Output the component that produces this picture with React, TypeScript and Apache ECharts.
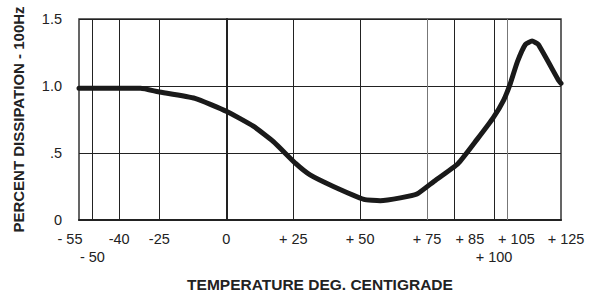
import React, { useEffect, useRef } from "react";
import * as echarts from "echarts";

const temps = [-55, -32, -25.4, -11.7, 0.2, 10.1, 17.6, 26.0, 31.3, 40.0, 51.4, 57.5, 65.0, 71.2, 77.4, 86.5, 93.6, 99.6, 103.6, 106.1, 108.7, 111.7, 114.2, 116.5, 124, 125];
const dissipation = [0.983, 0.983, 0.957, 0.908, 0.81, 0.7, 0.585, 0.42, 0.336, 0.25, 0.154, 0.144, 0.165, 0.194, 0.286, 0.42, 0.6, 0.76, 0.895, 1.02, 1.18, 1.31, 1.335, 1.31, 1.045, 1.02];

const tickValues = [-55, -40, -25, 0, 25, 50, 75, 85, 105, 125];
const tickLabels = ["- 55", "-40", "-25", "0", "+ 25", "+ 50", "+ 75", "+ 85", "+ 105", "+ 125"];
const secondRowValues = [-50, 100];
const secondRowLabels = ["- 50", "+ 100"];
const gridValues = [-50, -40, -25, 0, 25, 50, 75, 85, 100, 105];
const lightGrid = [75, 105];

const labelStyleKey: Record<number, string> = { [-55]: "l", 85: "r2", 105: "r1", 125: "r0" };

export default function App() {
  const ref = useRef<HTMLDivElement>(null);
  useEffect(() => {
    const chart = echarts.init(ref.current!, undefined, { renderer: "svg" });
    const font = "'Liberation Sans', Arial, Helvetica, sans-serif";
    const fs = 14.5;
    const baseLabel = { fontFamily: font, fontSize: fs, color: "#222" };
    chart.setOption({
      animation: false,
      grid: {
        left: 79,
        right: 34,
        top: 19,
        bottom: 72,
        outerBoundsMode: "none",
        containLabel: false,
        show: true,
        borderColor: "#333",
        borderWidth: 1.5,
      },
      xAxis: [
        {
          type: "value",
          min: -55,
          max: 125,
          name: "TEMPERATURE DEG. CENTIGRADE",
          nameLocation: "middle",
          nameGap: 56,
          nameTextStyle: { fontFamily: font, fontWeight: "bold", fontSize: 15.5, color: "#222" },
          axisLine: { show: true, lineStyle: { color: "#222", width: 2 } },
          axisTick: { show: false },
          splitLine: { show: false },
          axisLabel: {
            ...baseLabel,
            customValues: tickValues,
            interval: 0,
            margin: 11,
            hideOverlap: false,
            formatter: (v: number) => {
              const i = tickValues.indexOf(v);
              const t = i >= 0 ? tickLabels[i] : String(v);
              const key = labelStyleKey[v];
              return key ? `{${key}|${t}}` : t;
            },
            rich: {
              l: { ...baseLabel, padding: [0, 18, 0, 0] },
              r0: { ...baseLabel, padding: [0, 0, 0, 10] },
              r1: { ...baseLabel, padding: [0, 0, 0, 18] },
              r2: { ...baseLabel, padding: [0, 0, 0, 32] },
            },
          },
        },
        {
          type: "value",
          min: -55,
          max: 125,
          position: "bottom",
          offset: 18,
          axisLine: { show: false },
          axisTick: { show: false },
          splitLine: { show: false },
          axisLabel: {
            ...baseLabel,
            customValues: secondRowValues,
            interval: 0,
            margin: 11,
            hideOverlap: false,
            formatter: (v: number) => {
              const i = secondRowValues.indexOf(v);
              return i >= 0 ? secondRowLabels[i] : "";
            },
          },
        },
      ],
      yAxis: {
        type: "value",
        min: 0,
        max: 1.5,
        interval: 0.5,
        name: "PERCENT DISSIPATION - 100Hz",
        nameLocation: "middle",
        nameGap: 53,
        nameTextStyle: { fontFamily: font, fontWeight: "bold", fontSize: 15, color: "#222" },
        axisLine: { show: true, lineStyle: { color: "#222", width: 2 } },
        axisTick: { show: false },
        splitLine: { show: true, lineStyle: { color: "#222", width: 1 } },
        axisLabel: {
          ...baseLabel,
          margin: 17,
          formatter: (v: number) => (v === 0 ? "0" : v === 0.5 ? ".5" : v.toFixed(1)),
        },
      },
      series: [
        {
          type: "line",
          xAxisIndex: 0,
          data: temps.map((t, i) => [t, dissipation[i]]),
          smooth: 0.15,
          showSymbol: false,
          lineStyle: { color: "#1a1a1a", width: 5, join: "round", cap: "round" },
          markLine: {
            silent: true,
            symbol: "none",
            label: { show: false },
            z: 1,
            data: gridValues.map((g) => ({
              xAxis: g,
              lineStyle: {
                type: "solid",
                color: lightGrid.includes(g) ? "#777" : "#222",
                width: 1,
              },
            })),
          },
        },
      ],
    });
    return () => chart.dispose();
  }, []);
  return <div ref={ref} style={{ width: 595, height: 292, position: "absolute", left: 0, top: 0, background: "#fff" }} />;
}
